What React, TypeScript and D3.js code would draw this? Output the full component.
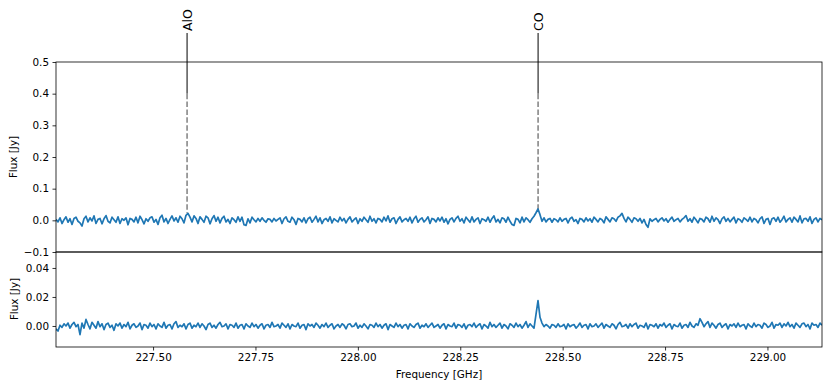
import React, { useEffect, useRef } from 'react'
import * as d3 from 'd3'

// spectral grid (GHz)
const freqStart = 227.263
const chanWidth = 0.004883

// line markers
const lineNames = ['AlO', 'CO']
const lineFreqs = [227.583, 228.44]

// upper panel spectrum, mJy
const fluxTop = [
  3, -5, 8, -10, 2, 11, -6, 5, -13, 6, 10, -3, -8, -18, 5, 13,
  -5, 8, -2, 14, -10, 3, 6, -11, 5, 15, -3, -8, 10, 2, -6, 11,
  -10, 5, 0, 8, -14, 6, 3, -5, 10, -8, 13, 2, -11, 5, -3, 8,
  11, -6, 3, -13, 8, 16, -5, 6, -10, 3, 14, -2, 8, -6, 13, 5,
  -8, 16, 22, 10, -5, 14, 6, -10, 11, 3, -6, 13, 8, -11, 5, 15,
  -3, 10, -8, 6, 13, -5, 3, -10, 8, 2, -6, 11, -3, 10, -14, -16,
  5, -8, 10, 2, -5, 6, -3, 8, 0, -6, 5, 3, -5, 6, -2, 3,
  8, -10, 5, 11, -3, -6, 10, 2, -13, 6, 3, -5, 8, -8, 5, 10,
  -6, 3, 13, -5, 8, -10, 2, 6, -3, 11, -8, 5, 0, -5, 10, -2,
  6, -8, 3, 11, -5, 2, 8, -10, 5, -3, 10, 2, -6, 13, -3, 5,
  -8, 6, 3, -5, 10, -2, 14, -6, 5, 8, -10, 3, 11, -5, 2, 6,
  -3, 10, -8, 5, 13, -6, 3, 8, -5, 2, 11, -10, 6, 3, -5, 8,
  -2, 10, -6, 5, -11, 3, 8, -5, 6, 13, -3, 5, -8, 10, 2, -6,
  11, -5, 3, 8, -10, 5, 2, -3, 10, -6, 6, 14, -5, 3, -8, 8,
  5, -6, 10, -3, -13, -16, 6, 3, -8, 10, -5, 8, 2, -6, 5, 13,
  24, 36, 18, -3, 8, -5, 3, 6, -6, 5, 2, -5, 8, -3, 3, 6,
  -8, 5, 10, -3, 2, -10, 6, 3, -5, 8, -2, 5, -6, 10, 3, -5,
  6, 2, -8, 11, 3, -5, 8, 5, -3, 10, 14, 22, 6, -5, 10, 3,
  -6, 8, 5, -3, 6, -8, 3, -13, -22, 5, -3, 2, 6, -5, 3, 8,
  -2, 5, -6, 3, 10, -3, 2, 6, -5, 3, 8, 15, -3, 5, -6, 10,
  2, -8, 6, 3, -5, 10, 5, -6, 13, -3, 8, 2, -10, 5, 11, -3,
  6, -5, 3, 10, -8, 5, 2, -6, 8, 3, -3, 10, -5, 6, 2, -8,
  5, 11, -10, 3, 6, -13, 5, 8, -3, 10, -6, 2, 13, -5, 3, 8,
  -6, 10, 3, -5, 14, -8, 5, 6, -3, 11, -10, 3, 8, -5, 6, 2,
]

// lower panel spectrum (smoothed), mJy
const fluxBottom = [
  -2.0, -3.5, 0.5, -1.0, 1.5, 0.0, 2.0, -1.5, 1.0, 2.5, -0.5, 1.0, -6.0, 2.0, -1.5, 4.5,
  1.0, -2.0, 2.5, 0.5, -1.5, 3.0, -0.5, 1.5, -2.5, 1.0, 2.0, -1.0, 0.5, -3.0, 1.5, 0.0,
  2.0, -1.5, 1.0, -0.5, 2.5, -2.0, 0.5, 1.5, -1.0, 0.0, 2.0, -2.5, 1.0, 0.5, -1.5, 2.0,
  -0.5, 1.0, -2.0, 1.5, 0.0, -1.0, 2.5, -1.5, 0.5, 1.0, -2.0, 1.5, 3.0, -1.0, 0.5, -0.5,
  1.5, -2.0, 1.0, 2.0, -1.5, 0.5, -0.5, 2.0, -1.0, 1.5, 0.0, -2.5, 1.0, 2.0, -1.0, 0.5,
  -1.5, 1.0, 2.5, -0.5, 0.0, 1.5, -2.0, 1.0, 0.5, -1.0, 2.0, -1.5, 0.5, 1.0, -2.0, 1.5,
  0.0, -1.0, 2.0, -0.5, 1.0, -1.5, 0.5, 1.5, -2.0, 0.5, 1.0, -1.0, 2.5, -0.5, 0.0, 1.0,
  -1.5, 2.0, 0.5, -1.0, 1.5, -2.0, 1.0, 0.0, -0.5, 2.0, -1.5, 0.5, 1.0, -2.5, 1.5, 0.0,
  1.0, -1.0, 2.0, 0.5, -1.5, 1.0, -0.5, 2.0, -1.0, 0.5, 1.5, -2.0, 0.0, 1.0, -1.0, 1.5,
  0.5, -2.0, 1.0, 1.5, -0.5, 0.0, 2.0, -1.5, 0.5, -1.0, 1.5, 0.0, -2.0, 1.0, 0.5, -1.0,
  2.0, -0.5, 1.0, -1.5, 0.5, 1.5, -2.5, 1.0, 0.0, -1.0, 2.0, -0.5, 1.0, -1.5, 0.5, 1.0,
  -2.0, 1.5, 0.0, -1.0, 1.0, 2.0, -1.5, 0.5, -0.5, 1.5, -1.0, 0.5, 2.0, -1.0, 0.0, 1.0,
  -1.5, 0.5, 1.5, -2.0, 1.0, 0.0, -0.5, 2.0, -1.5, 1.0, 0.5, -1.0, 1.5, -2.0, 0.5, 1.0,
  -0.5, 2.0, -1.0, 0.5, 1.5, -2.0, 1.0, 0.0, -1.5, 2.5, -0.5, 1.0, -1.0, 0.5, 2.0, -1.5,
  1.0, 0.0, -2.0, 1.5, 0.5, -1.0, 2.0, -0.5, 1.0, -1.5, 0.5, 3.0, -1.0, 1.5, 0.0, -1.5,
  8.0, 17.5, 6.0, 2.0, -0.5, 1.0, 0.0, -1.5, 1.0, 0.5, -1.0, 1.5, -0.5, 0.0, 1.0, -2.0,
  1.5, -0.5, 0.5, 1.0, -1.5, 0.0, 2.0, -1.0, 0.5, 1.0, -2.0, 1.5, -0.5, 0.0, 1.5, -1.0,
  0.5, 2.0, -1.5, 1.0, 0.0, -1.0, 1.5, 0.5, -2.0, 1.0, 2.5, -0.5, 0.0, 1.0, -1.5, 1.5,
  -0.5, 1.0, 2.0, -1.5, 0.5, 0.0, -1.0, 2.0, -2.0, 1.0, 0.5, -0.5, 1.5, -1.5, 1.0, 0.0,
  2.0, -1.0, 0.5, 1.5, -2.0, 1.0, 0.0, -0.5, 2.0, -1.5, 0.5, 1.0, -1.0, 2.5, 0.0, -1.0,
  1.5, 0.5, 5.0, 2.5, -0.5, 1.5, 3.0, -1.0, 2.0, 0.5, -1.5, 1.0, 2.0, -1.0, 0.5, 1.5,
  -2.0, 1.0, 0.0, 1.5, -1.0, 2.0, -0.5, 0.5, 1.0, -2.0, 1.5, 0.0, -1.0, 2.0, -0.5, 1.0,
  0.5, -1.5, 2.0, 1.0, -1.0, 0.0, 2.5, -1.5, 1.0, 0.5, 2.0, -1.0, 1.5, 0.0, 2.5, -0.5,
  1.0, -1.5, 2.0, 0.5, -1.0, 1.5, 2.0, -0.5, 1.0, -2.0, 2.0, 0.5, 1.0, -1.0, 2.0, 0.5,
]

const topTicks = [0.5, 0.4, 0.3, 0.2, 0.1, 0.0, -0.1]
const bottomTicks = [0.0, 0.02, 0.04]
const freqTicks = [227.5, 227.75, 228.0, 228.25, 228.5, 228.75, 229.0]

const width = 830
const height = 388
const left = 56
const right = 822
const topPanel = { y0: 62, y1: 252 }
const bottomPanel = { y0: 252, y1: 347 }
const font = 'DejaVu Sans, sans-serif'
const fs = 10.4
const blue = '#1f77b4'

export default function App() {
  const node = useRef<SVGSVGElement>(null)

  useEffect(() => {
    document.body.style.margin = '0'
    const svg = d3.select(node.current)
    svg.selectAll('*').remove()

    const x = d3.scaleLinear()
      .domain([freqStart, freqStart + chanWidth * (fluxTop.length - 1)])
      .range([left, right])

    const yTop = d3.scaleLinear().domain([-0.1, 0.5]).range([topPanel.y1, topPanel.y0])
    const yBot = d3.scaleLinear().domain([-0.0145, 0.051]).range([bottomPanel.y1, bottomPanel.y0])

    const defs = svg.append('defs')
    defs.append('clipPath').attr('id', 'clipTop')
      .append('rect').attr('x', left).attr('y', topPanel.y0)
      .attr('width', right - left).attr('height', topPanel.y1 - topPanel.y0)
    defs.append('clipPath').attr('id', 'clipBot')
      .append('rect').attr('x', left).attr('y', bottomPanel.y0)
      .attr('width', right - left).attr('height', bottomPanel.y1 - bottomPanel.y0)

    // line markers
    lineFreqs.forEach((f, i) => {
      const peak = i === 0 ? 0.022 : 0.036
      svg.append('line')
        .attr('x1', x(f)).attr('x2', x(f))
        .attr('y1', yTop(0.4)).attr('y2', yTop(peak))
        .attr('stroke', 'gray').attr('stroke-width', 1.5)
        .attr('stroke-dasharray', '5.5,2.4')
      svg.append('line')
        .attr('x1', x(f)).attr('x2', x(f))
        .attr('y1', 33).attr('y2', yTop(0.4))
        .attr('stroke', 'black').attr('stroke-width', 1)
      svg.append('text')
        .attr('transform', `translate(${x(f)},31) rotate(-90)`)
        .attr('dy', '0.36em')
        .attr('font-family', font).attr('font-size', 12.5)
        .attr('text-anchor', 'start')
        .text(lineNames[i])
    })

    const lineTop = d3.line<number>()
      .x((d, i) => x(freqStart + chanWidth * i))
      .y(d => yTop(d / 1000))
    const lineBot = d3.line<number>()
      .x((d, i) => x(freqStart + chanWidth * i))
      .y(d => yBot(d / 1000))

    svg.append('path').datum(fluxTop)
      .attr('clip-path', 'url(#clipTop)')
      .attr('d', lineTop)
      .attr('fill', 'none').attr('stroke', blue)
      .attr('stroke-width', 1.7).attr('stroke-linejoin', 'round')
    svg.append('path').datum(fluxBottom)
      .attr('clip-path', 'url(#clipBot)')
      .attr('d', lineBot)
      .attr('fill', 'none').attr('stroke', blue)
      .attr('stroke-width', 1.7).attr('stroke-linejoin', 'round')

    const styleAxis = g => g
      .call(g => g.selectAll('text').attr('font-family', font).attr('font-size', fs).attr('fill', 'black'))
      .call(g => g.selectAll('line').attr('stroke', 'black').attr('stroke-width', 0.8))
      .call(g => g.select('.domain').remove())

    svg.append('g')
      .attr('transform', `translate(${left},0)`)
      .call(d3.axisLeft(yTop).tickValues(topTicks).tickSize(3.5).tickPadding(3.5)
        .tickFormat(d => d3.format('.1f')(d as number).replace('-', '\u2212')))
      .call(styleAxis)

    svg.append('g')
      .attr('transform', `translate(${left},0)`)
      .call(d3.axisLeft(yBot).tickValues(bottomTicks).tickSize(3.5).tickPadding(3.5)
        .tickFormat(d => d3.format('.2f')(d as number)))
      .call(styleAxis)

    svg.append('g')
      .attr('transform', `translate(0,${bottomPanel.y1})`)
      .call(d3.axisBottom(x).tickValues(freqTicks).tickSize(3.5).tickPadding(3.5)
        .tickFormat(d => d3.format('.2f')(d as number)))
      .call(styleAxis)

    // frames
    svg.append('rect')
      .attr('x', left).attr('y', topPanel.y0)
      .attr('width', right - left).attr('height', topPanel.y1 - topPanel.y0)
      .attr('fill', 'none').attr('stroke', 'black').attr('stroke-width', 0.8)
    svg.append('rect')
      .attr('x', left).attr('y', bottomPanel.y0)
      .attr('width', right - left).attr('height', bottomPanel.y1 - bottomPanel.y0)
      .attr('fill', 'none').attr('stroke', 'black').attr('stroke-width', 0.8)

    // axis labels
    svg.append('text')
      .attr('x', (left + right) / 2).attr('y', 374).attr('dy', '0.35em')
      .attr('text-anchor', 'middle')
      .attr('font-family', font).attr('font-size', fs)
      .text('Frequency [GHz]')
    const ylab = [[(topPanel.y0 + topPanel.y1) / 2, 13], [299, 14]]
    ylab.forEach(([cy, cx]) => {
      svg.append('text')
        .attr('transform', `translate(${cx},${cy}) rotate(-90)`)
        .attr('dy', '0.35em')
        .attr('text-anchor', 'middle')
        .attr('font-family', font).attr('font-size', fs)
        .text('Flux [Jy]')
    })
  }, [])

  return (
    <svg ref={node} width={width} height={height}
      style={{ display: 'block', background: 'white' }} />
  )
}
